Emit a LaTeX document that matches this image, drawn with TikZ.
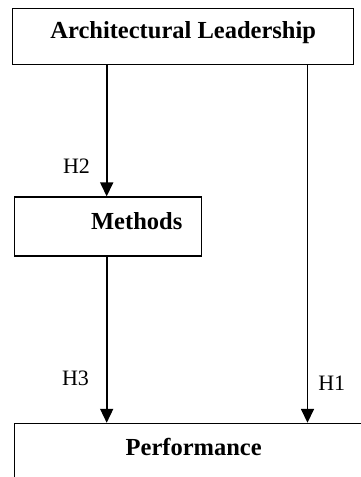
\documentclass[tikz,border=0pt]{standalone}
\usepackage{fontspec}
\setmainfont{Liberation Serif}
\usetikzlibrary{positioning,arrows.meta}

\begin{document}
\begin{tikzpicture}[x=1pt, y=-1pt, >={Triangle[width=13pt,length=14pt]},
  box/.style={draw, line width=1.4pt, inner sep=0pt, align=center,
    font=\fontsize{24.5}{29}\selectfont\bfseries},
  hyp/.style={font=\fontsize{22}{26}\selectfont, inner sep=0pt},
  link/.style={->, line width=1.6pt}]
\clip (0,0) rectangle (361,477);
\node[box, anchor=north west, minimum width=341pt, text height=30pt, text depth=26pt]
  (lead) at (12,8) {Architectural Leadership};
\node[box, below right=131pt and 2pt of lead.south west, minimum width=187pt,
  text height=32pt, text depth=27pt] (methods) {\hspace*{57pt}Methods};
\node[box, below right=166pt and 0pt of methods.south west, minimum width=358pt,
  text height=32pt, text depth=48pt] (perf) {Performance};
% mediation path
\draw[link] ([xshift=-1.5pt]methods.north |- lead.south) --
  node[pos=0.77, left=16pt, hyp] {H2} ([xshift=-1.5pt]methods.north);
\draw[link] ([xshift=-1.5pt]methods.south) --
  node[pos=0.735, left=17pt, hyp] {H3} ([xshift=-1.5pt]methods.south |- perf.north);
% direct path
\draw[link] ([xshift=295.5pt]lead.south west) --
  node[pos=0.888, right=10pt, hyp] {H1} ([xshift=295.5pt]lead.south west |- perf.north);
\end{tikzpicture}
\end{document}
